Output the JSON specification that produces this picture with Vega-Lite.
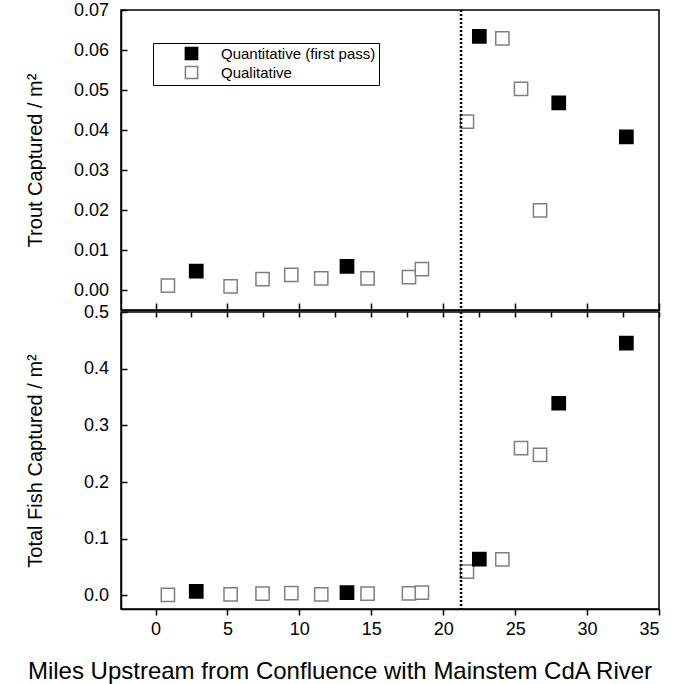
{
  "$schema": "https://vega.github.io/schema/vega-lite/v6.json",
  "padding": {"left": 24, "top": 0, "right": 5, "bottom": 0},
  "background": "white",
  "config": {
    "font": "Liberation Sans",
    "view": {"stroke": "black", "strokeWidth": 1.5},
    "axis": {
      "grid": false,
      "domainColor": "black",
      "domainWidth": 1.5,
      "tickColor": "black",
      "tickWidth": 1.5,
      "labelColor": "black",
      "titleColor": "black",
      "labelFontSize": 18,
      "titleFontSize": 20,
      "titleFontWeight": "normal",
      "labelFont": "Liberation Sans",
      "titleFont": "Liberation Sans"
    }
  },
  "datasets": {
    "fish": [
      {"mile": 0.86, "method": "Qualitative", "trout": 0.0011, "total": 0.001},
      {"mile": 2.83, "method": "Quantitative (first pass)", "trout": 0.0047, "total": 0.007},
      {"mile": 5.22, "method": "Qualitative", "trout": 0.0009, "total": 0.002},
      {"mile": 7.44, "method": "Qualitative", "trout": 0.0027, "total": 0.003},
      {"mile": 9.44, "method": "Qualitative", "trout": 0.0038, "total": 0.004},
      {"mile": 11.52, "method": "Qualitative", "trout": 0.0029, "total": 0.002},
      {"mile": 13.31, "method": "Quantitative (first pass)", "trout": 0.0059, "total": 0.005},
      {"mile": 14.74, "method": "Qualitative", "trout": 0.0029, "total": 0.003},
      {"mile": 17.62, "method": "Qualitative", "trout": 0.0032, "total": 0.0035},
      {"mile": 18.52, "method": "Qualitative", "trout": 0.0052, "total": 0.005},
      {"mile": 21.65, "method": "Qualitative", "trout": 0.0421, "total": 0.042},
      {"mile": 22.51, "method": "Quantitative (first pass)", "trout": 0.0634, "total": 0.064},
      {"mile": 24.11, "method": "Qualitative", "trout": 0.0629, "total": 0.0635},
      {"mile": 25.41, "method": "Qualitative", "trout": 0.0503, "total": 0.26},
      {"mile": 26.73, "method": "Qualitative", "trout": 0.0199, "total": 0.248},
      {"mile": 28.03, "method": "Quantitative (first pass)", "trout": 0.0468, "total": 0.339},
      {"mile": 32.73, "method": "Quantitative (first pass)", "trout": 0.0383, "total": 0.445}
    ],
    "boundary": [{"mile": 21.24}]
  },
  "spacing": -10,
  "resolve": {
    "scale": {"x": "independent", "y": "independent", "fill": "independent", "stroke": "independent"},
    "legend": {"fill": "independent", "stroke": "independent"}
  },
  "vconcat": [
    {
      "width": 538,
      "height": 300,
      "layer": [
        {
          "data": {"name": "fish"},
          "mark": {"type": "point", "shape": "square", "size": 175, "strokeWidth": 1.5, "opacity": 1, "fillOpacity": 1},
          "encoding": {
            "x": {
              "field": "mile", "type": "quantitative",
              "scale": {"domain": [-2.4, 35], "nice": false, "zero": false},
              "axis": {"values": [0, 5, 10, 15, 20, 25, 30, 35], "labels": false, "title": null, "tickSize": -7, "minExtent": 0, "maxExtent": 0}
            },
            "y": {
              "field": "trout", "type": "quantitative",
              "scale": {"domain": [-0.005, 0.07], "nice": false, "zero": false},
              "axis": {"values": [0, 0.01, 0.02, 0.03, 0.04, 0.05, 0.06, 0.07], "format": ".2f", "title": "Trout Captured / m²", "tickSize": -6, "labelPadding": 18.5, "titlePadding": 28}
            },
            "fill": {
              "field": "method", "type": "nominal",
              "scale": {"domain": ["Quantitative (first pass)", "Qualitative"], "range": ["black", "white"]},
              "legend": {"title": null, "orient": "none", "legendX": 32, "legendY": 33, "strokeColor": "black", "fillColor": "white", "padding": 3, "labelFontSize": 15, "labelColor": "black", "symbolSize": 150, "symbolStrokeWidth": 1.5, "symbolOffset": 28, "labelOffset": 22, "rowPadding": 0}
            },
            "stroke": {
              "field": "method", "type": "nominal",
              "scale": {"domain": ["Quantitative (first pass)", "Qualitative"], "range": ["black", "#7f7f7f"]},
              "legend": {"title": null, "orient": "none", "legendX": 32, "legendY": 33, "strokeColor": "black", "fillColor": "white", "padding": 3, "labelFontSize": 15, "labelColor": "black", "symbolSize": 150, "symbolStrokeWidth": 1.5, "symbolOffset": 28, "labelOffset": 22, "rowPadding": 0}
            }
          }
        },
        {
          "data": {"name": "boundary"},
          "mark": {"type": "rule", "color": "black", "strokeWidth": 2.5, "strokeDash": [2, 2]},
          "encoding": {"x": {"field": "mile", "type": "quantitative", "axis": {"title": null}}}
        }
      ]
    },
    {
      "width": 538,
      "height": 297,
      "resolve": {"axis": {"x": "independent"}},
      "layer": [
        {
          "data": {"name": "fish"},
          "mark": {"type": "point", "shape": "square", "size": 175, "strokeWidth": 1.5, "opacity": 1, "fillOpacity": 1},
          "encoding": {
            "x": {
              "field": "mile", "type": "quantitative",
              "scale": {"domain": [-2.4, 35], "nice": false, "zero": false},
              "axis": {"values": [0, 5, 10, 15, 20, 25, 30, 35], "title": "Miles Upstream from Confluence with Mainstem CdA River", "titleFontSize": 24, "titleX": 218.5, "tickSize": 6, "labelPadding": 5, "titlePadding": 21}
            },
            "y": {
              "field": "total", "type": "quantitative",
              "scale": {"domain": [-0.024, 0.5], "nice": false, "zero": false},
              "axis": {"values": [0, 0.1, 0.2, 0.3, 0.4, 0.5], "format": ".1f", "title": "Total Fish Captured / m²", "tickSize": -6, "labelPadding": 18.5, "titlePadding": 38}
            },
            "fill": {
              "field": "method", "type": "nominal",
              "scale": {"domain": ["Quantitative (first pass)", "Qualitative"], "range": ["black", "white"]},
              "legend": null
            },
            "stroke": {
              "field": "method", "type": "nominal",
              "scale": {"domain": ["Quantitative (first pass)", "Qualitative"], "range": ["black", "#7f7f7f"]},
              "legend": null
            }
          }
        },
        {
          "data": {"name": "boundary"},
          "mark": {"type": "rule", "color": "black", "strokeWidth": 2.5, "strokeDash": [2, 2]},
          "encoding": {
            "x": {
              "field": "mile", "type": "quantitative",
              "axis": {"orient": "top", "values": [-2.5, 0, 2.5, 5, 7.5, 10, 12.5, 15, 17.5, 20, 22.5, 25, 27.5, 30, 32.5, 35], "labels": false, "domain": false, "title": null, "tickSize": -5, "minExtent": 0, "maxExtent": 0}
            }
          }
        }
      ]
    }
  ]
}
